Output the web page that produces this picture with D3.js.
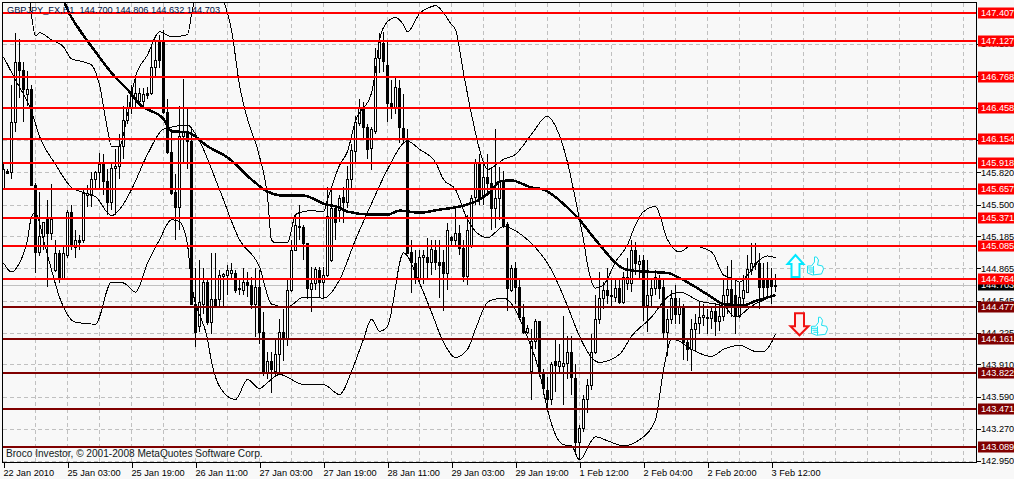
<!DOCTYPE html>
<html>
<head>
<meta charset="utf-8">
<script src="https://cdn.jsdelivr.net/npm/d3@7"></script>
<style>
  html, body { margin: 0; padding: 0; background: #f8f8f8; overflow: hidden; }
  svg { display: block; font-family: "Liberation Sans", sans-serif; }
  .axis text { font-size: 9.2px; fill: #000; font-family: "Liberation Sans", sans-serif; }
  .axis line { stroke: #000; shape-rendering: crispEdges; }
  .grid line { stroke: #c0c0c0; stroke-dasharray: 4 3; shape-rendering: crispEdges; }
</style>
</head>
<body>
<svg id="chart" width="1014" height="479"></svg>
<script>
var titleText = "GBPJPY_FX,H1  144.700 144.806 144.632 144.703";
var creditText = "Broco Investor, \u00a9 2001-2008 MetaQuotes Software Corp.";

var timeLabels = ["22 Jan 2010", "25 Jan 03:00", "25 Jan 19:00", "26 Jan 11:00", "27 Jan 03:00", "27 Jan 19:00",
  "28 Jan 11:00", "29 Jan 03:00", "29 Jan 19:00", "1 Feb 12:00", "2 Feb 04:00", "2 Feb 20:00", "3 Feb 12:00"];
var priceTicks = [142.95, 143.27, 143.59, 143.91, 144.225, 144.545, 144.865, 145.185, 145.5, 145.82, 146.14, 146.46, 146.78, 147.1];

var levelsUpper = [147.407, 147.127, 146.768, 146.458, 146.154, 145.918, 145.657, 145.371, 145.085, 144.764];
var levelsLower = [144.477, 144.161, 143.822, 143.471, 143.089];
var lastPrice = 144.703;

var open = [145.67,145.83,145.82,146.32,146.92,146.84,146.60,146.65,145.70,145.03,
  145.19,145.36,145.22,144.85,145.02,144.77,145.00,145.43,145.08,145.15,
  145.15,145.60,145.60,145.75,145.82,145.90,145.73,145.53,145.86,145.88,
  146.08,146.34,146.47,146.55,146.53,146.53,146.61,146.61,146.87,147.12,
  147.12,146.42,146.02,145.63,145.48,146.18,146.23,146.13,144.51,144.29,
  144.51,144.73,144.33,144.56,144.56,144.79,144.80,144.82,144.82,144.67,
  144.65,144.73,144.70,144.51,144.68,144.23,143.83,143.94,143.84,144.01,
  144.23,144.16,144.65,145.05,145.29,145.28,145.12,144.66,144.72,144.85,
  144.73,144.80,144.95,145.47,145.45,145.58,145.53,145.75,146.03,146.31,
  146.45,146.27,146.06,146.23,146.96,147.11,146.89,146.51,146.47,146.66,
  146.26,146.16,145.03,144.92,144.77,144.98,144.98,144.93,145.05,144.93,
  144.93,144.82,145.18,145.15,145.22,145.07,144.79,145.10,145.58,145.92,
  145.58,145.77,145.72,145.47,145.57,145.73,145.31,144.65,144.87,144.68,
  144.38,144.23,143.84,144.14,144.34,143.83,143.66,143.57,143.94,143.89,
  143.89,143.92,144.03,143.77,143.14,143.28,143.57,143.71,144.03,144.36,
  144.57,144.65,144.60,144.58,144.67,144.53,144.72,144.72,145.05,144.91,
  144.95,144.50,144.60,144.67,144.77,144.68,144.23,144.36,144.57,144.41,
  144.49,144.13,144.06,144.26,144.32,144.38,144.38,144.37,144.44,144.34,
  144.39,144.60,144.66,144.60,144.39,144.57,144.63,144.85,144.92,144.92,
  144.77,144.77,144.77,144.70];
var close = [145.85,145.81,146.32,146.92,146.84,146.65,146.65,145.70,145.03,145.19,
  145.33,145.22,145.36,145.02,144.77,145.02,145.43,145.10,145.15,145.13,
  145.62,145.62,145.75,145.82,145.90,145.73,145.53,145.86,145.88,146.08,
  146.34,146.47,146.63,146.61,146.61,146.60,146.59,146.87,146.94,146.94,
  146.42,146.02,145.62,145.48,146.18,146.22,146.13,144.51,144.23,144.53,
  144.73,144.33,144.56,144.49,144.80,144.81,144.85,144.85,144.65,144.66,
  144.73,144.70,144.51,144.68,144.23,143.84,143.94,143.86,144.01,144.23,
  144.16,144.65,145.05,145.30,145.28,145.12,144.67,144.72,144.86,144.73,
  144.80,145.39,145.47,145.33,145.57,145.53,145.75,146.04,146.32,146.46,
  146.27,146.05,146.25,146.96,147.12,146.93,146.51,146.47,146.67,146.27,
  146.17,145.02,144.93,144.77,144.98,145.00,144.93,145.06,144.93,144.90,
  144.82,145.25,145.15,145.22,145.07,144.79,145.25,145.57,145.92,145.57,
  145.77,145.72,145.47,145.57,145.73,145.30,144.67,144.87,144.68,144.38,
  144.23,144.27,144.14,144.34,143.83,143.68,143.57,143.91,143.90,143.94,
  143.92,144.03,143.78,143.14,143.28,143.57,143.71,144.03,144.36,144.57,
  144.65,144.60,144.59,144.67,144.53,144.78,144.78,145.05,144.92,144.94,
  144.50,144.60,144.67,144.78,144.67,144.23,144.36,144.57,144.41,144.49,
  144.13,144.06,144.26,144.32,144.38,144.40,144.37,144.44,144.34,144.39,
  144.60,144.66,144.51,144.39,144.58,144.65,144.86,144.92,144.91,144.68,
  144.68,144.68,144.69,144.703];
var high = [145.92,145.85,146.69,147.21,147.15,146.92,146.83,146.69,145.72,145.63,
  145.33,145.55,145.71,145.15,145.05,145.10,145.45,145.50,145.25,145.20,
  145.65,145.70,145.82,145.83,146.01,146.00,145.85,145.90,146.05,146.20,
  146.48,146.59,146.69,146.76,146.66,146.66,146.67,147.08,147.12,147.19,
  147.24,146.55,146.25,145.80,146.48,146.75,146.47,146.25,144.87,144.95,
  144.87,144.75,145.02,145.02,144.85,144.82,144.90,144.92,144.85,144.77,
  144.87,144.83,144.78,144.87,144.85,144.43,144.03,144.03,144.16,144.36,
  144.46,144.75,145.15,145.40,145.50,145.30,145.12,144.88,144.88,144.88,
  144.88,145.68,145.65,145.50,145.60,145.68,145.88,146.10,146.38,146.55,
  146.52,146.30,146.27,147.06,147.21,147.22,147.12,146.74,146.76,146.74,
  146.60,146.25,145.15,145.05,145.05,145.05,145.17,145.15,145.15,145.15,
  145.05,145.32,145.19,145.47,145.30,145.15,145.40,145.60,145.95,146.00,
  145.90,146.00,145.85,146.25,145.87,145.83,145.33,144.90,144.93,144.75,
  144.51,144.30,144.26,144.36,144.34,143.86,143.78,143.93,144.16,144.11,
  144.39,144.19,144.19,143.91,143.31,143.61,143.76,144.21,144.60,144.83,
  144.73,144.87,144.75,144.77,144.75,144.83,144.97,145.15,145.13,145.00,
  145.00,144.95,144.75,144.85,144.80,144.75,144.46,144.65,144.70,144.57,
  144.51,144.16,144.36,144.41,144.54,144.51,144.46,144.48,144.51,144.51,
  144.75,144.89,144.95,144.75,144.73,144.80,145.00,145.12,145.12,145.02,
  144.92,144.93,144.87,144.806];
var low = [145.65,145.80,145.75,146.22,146.56,146.32,146.48,145.70,144.82,144.99,
  145.05,144.68,145.15,144.83,144.72,144.75,144.97,145.05,144.97,145.05,
  145.12,145.48,145.48,145.67,145.65,145.60,145.40,145.45,145.40,145.75,
  145.95,146.30,146.40,146.45,146.48,146.47,146.55,146.59,146.76,146.86,
  146.40,146.00,145.60,145.15,145.25,145.90,145.85,144.51,144.08,144.23,
  144.41,144.30,144.21,144.48,144.48,144.48,144.60,144.75,144.62,144.60,
  144.60,144.58,144.46,144.18,144.11,143.79,143.76,143.63,143.79,143.83,
  143.94,144.09,144.63,145.05,145.15,144.95,144.56,144.43,144.65,144.57,
  144.57,144.78,144.93,145.15,145.33,145.32,145.47,145.65,145.90,146.28,
  146.15,145.95,145.84,146.20,146.81,146.82,146.32,146.35,146.40,146.11,
  146.11,145.02,144.62,144.71,144.71,144.71,144.77,144.80,144.85,144.57,
  144.44,144.65,145.10,145.10,145.00,144.73,144.70,145.07,145.50,145.50,
  145.50,145.59,145.25,145.27,145.35,145.27,144.44,144.63,144.51,144.36,
  144.21,144.21,143.56,144.06,143.78,143.61,143.46,143.51,143.64,143.83,
  143.51,143.76,143.61,143.01,142.96,143.24,143.43,143.66,144.01,144.31,
  144.46,144.51,144.48,144.53,144.51,144.51,144.65,144.63,144.80,144.75,
  144.34,144.23,144.48,144.60,144.56,144.16,143.99,144.31,144.31,144.31,
  143.95,143.94,143.84,144.04,144.21,144.29,144.21,144.26,144.19,144.24,
  144.34,144.41,144.38,144.21,144.37,144.51,144.63,144.80,144.85,144.46,
  144.56,144.57,144.51,144.632];

var upperBars = [6,7,8,9,12,15,17,20,22,24,26,27,29,31,33,36,39,42,46,47,48,50,53,55,57,59,61,64,66,67,68,71,73,74,77,80,81,84,86,88,92,93,94,96,98,100,101,104,107,108,110,112,113,115,117,119,121,125,128,132,136,138,141,143,144,145,146,148,150,153,156,158,160,163,166,169,172,177,180,182,184,186,189,191,193];
var upperBand = [147.79,147.39,147.18,147.21,147.14,147.07,146.95,146.92,146.89,146.69,146.25,146.08,146.08,146.40,146.77,146.99,147.22,147.17,147.19,147.39,147.59,147.94,147.84,147.54,147.24,146.69,146.35,145.98,145.58,145.15,145.12,145.12,145.40,145.42,145.44,145.43,145.55,145.89,146.03,146.33,146.61,146.84,147.14,147.32,147.36,147.29,147.22,147.40,147.47,147.48,147.41,147.29,147.24,146.81,146.40,146.05,145.85,145.95,146.00,146.20,146.38,146.28,145.92,145.55,145.35,145.15,144.90,144.67,144.70,144.93,145.10,145.30,145.43,145.48,145.15,145.03,145.09,145.03,144.80,144.77,144.73,144.80,144.95,144.99,144.97];

var middleBars = [0,3,7,9,13,17,20,23,27,29,32,36,40,46,49,54,59,64,67,71,75,80,84,88,92,96,101,104,108,110,113,116,121,125,131,137,141,144,147,149,154,157,162,166,169,174,180,183,187,193];
var middleBand = [146.97,146.74,146.43,146.18,145.90,145.67,145.62,145.58,145.39,145.45,145.65,146.00,146.25,146.29,146.13,145.65,145.15,144.88,144.51,144.48,144.58,144.57,144.75,145.15,145.51,145.85,146.13,146.05,145.92,145.75,145.65,145.35,145.17,145.28,145.15,144.85,144.49,144.19,143.98,143.93,144.01,144.19,144.38,144.58,144.63,144.54,144.49,144.38,144.49,144.60];

var lowerBars = [0,2,4,6,7,8,10,12,14,18,23,27,30,33,36,39,42,44,46,47,51,52,54,58,61,64,66,69,75,80,84,87,90,92,94,96,100,104,107,110,113,116,118,121,123,125,131,134,136,138,140,142,144,148,151,155,159,163,165,167,169,172,177,180,184,188,190,193];
var lowerBand = [144.92,144.83,144.92,145.15,145.38,145.42,145.15,144.85,144.58,144.33,144.31,144.73,144.72,144.63,144.92,145.15,145.35,145.33,145.10,144.72,144.16,143.94,143.69,143.56,143.76,143.67,143.73,143.81,143.71,143.71,143.61,143.84,144.16,144.36,144.24,144.29,145.02,144.72,144.43,144.13,143.98,144.06,144.26,144.53,144.56,144.57,144.18,143.83,143.46,143.21,143.11,143.10,142.96,143.19,143.15,143.10,143.16,143.36,143.86,144.16,144.14,144.06,143.99,144.06,144.10,144.04,144.04,144.21];

var maBars = [15,16,19,23,27,32,34,40,42,46,51,56,62,66,70,75,80,84,86,92,96,99,104,109,115,119,122,124,127,132,135,141,144,148,156,162,166,169,173,177,180,185,188,193];
var maLine = [147.54,147.44,147.24,147.02,146.81,146.60,146.50,146.35,146.23,146.22,146.08,145.97,145.75,145.63,145.59,145.59,145.51,145.47,145.43,145.40,145.40,145.44,145.42,145.45,145.49,145.55,145.64,145.73,145.74,145.67,145.65,145.47,145.35,145.15,144.85,144.83,144.82,144.77,144.68,144.58,144.51,144.50,144.54,144.60];

// arrow and thumb annotations, placed as [bar, price]
var buyArrow = [198, 144.78], buyThumb = [201, 144.79];
var sellArrow = [199, 144.20], sellThumb = [202, 144.19];

var width = 1014
  , height = 479
  , margin = { top: 2.5, left: 2.5, right: 976.5, bottom: 462.5 }
  , upColor = "#ff0000"
  , downColor = "#800000"
;

var svg = d3.select("#chart");

var x = d3.scaleLinear().domain([0, 100]).range([3.5, 403.5]);
var y = d3.scaleLinear().domain([142.939, 147.516]).range([462, 2]);

svg.append("defs").append("clipPath").attr("id", "plot")
  .append("rect")
    .attr("x", margin.left).attr("y", margin.top)
    .attr("width", margin.right - margin.left)
    .attr("height", margin.bottom - margin.top);

var plot = svg.append("g").attr("clip-path", "url(#plot)");

// Dashed grid
var gridBars = d3.range(8, 241, 8);
plot.append("g").attr("class", "grid").selectAll("line")
    .data(gridBars)
  .enter().append("line")
    .attr("x1", x).attr("x2", x)
    .attr("y1", margin.top).attr("y2", margin.bottom);
plot.append("g").attr("class", "grid").selectAll("line")
    .data(priceTicks)
  .enter().append("line")
    .attr("x1", margin.left).attr("x2", margin.right)
    .attr("y1", function(d) { return Math.round(y(d)) + 0.5; })
    .attr("y2", function(d) { return Math.round(y(d)) + 0.5; });

// Chart header sits under the level lines
svg.append("text")
    .attr("x", 7).attr("y", 13)
    .attr("font-size", 9.2).attr("fill", "#001040")
    .style("white-space", "pre")
    .text(titleText);

// Last price line
plot.append("line")
    .attr("x1", margin.left).attr("x2", margin.right)
    .attr("y1", Math.round(y(lastPrice)) + 0.5).attr("y2", Math.round(y(lastPrice)) + 0.5)
    .attr("stroke", "#c0c0c0").attr("shape-rendering", "crispEdges");

// Candles
var candles = plot.append("g").selectAll("g")
    .data(open.map(function(o, i) { return { i: i, o: o, c: close[i], h: high[i], l: low[i] }; }))
  .enter().append("g");

candles.append("line")
    .attr("x1", function(d) { return x(d.i); })
    .attr("x2", function(d) { return x(d.i); })
    .attr("y1", function(d) { return y(d.h); })
    .attr("y2", function(d) { return y(d.l); })
    .attr("stroke", "#000").attr("shape-rendering", "crispEdges");

candles.append("rect")
    .attr("x", function(d) { return x(d.i) - 1; })
    .attr("width", 2)
    .attr("y", function(d) { return Math.round(y(Math.max(d.o, d.c))) + 0.5; })
    .attr("height", function(d) {
        return Math.max(1, Math.round(y(Math.min(d.o, d.c))) - Math.round(y(Math.max(d.o, d.c))));
    })
    .attr("fill", function(d) { return d.c >= d.o ? "#fff" : "#000"; })
    .attr("stroke", "#000").attr("shape-rendering", "crispEdges");

// Bands and moving average
function pricePath(bars, values, widthPx) {
    var line = d3.line()
        .x(function(d) { return x(d); })
        .y(function(d, i) { return y(values[i]); })
        .curve(d3.curveMonotoneX);
    plot.append("path")
        .attr("d", line(bars))
        .attr("fill", "none").attr("stroke", "#000").attr("stroke-width", widthPx)
        .attr("shape-rendering", "crispEdges");
}
pricePath(upperBars, upperBand, 1);
pricePath(middleBars, middleBand, 1);
pricePath(lowerBars, lowerBand, 1);
pricePath(maBars, maLine, 2.5);

// Support and resistance levels
function drawLevels(levels, color) {
    plot.append("g").selectAll("line")
        .data(levels)
      .enter().append("line")
        .attr("x1", margin.left).attr("x2", margin.right)
        .attr("y1", function(d) { return Math.round(y(d)); })
        .attr("y2", function(d) { return Math.round(y(d)); })
        .attr("stroke", color).attr("stroke-width", 2)
        .attr("shape-rendering", "crispEdges");
}
drawLevels(levelsUpper, upColor);
drawLevels(levelsLower, downColor);

// Frame and axes
svg.append("rect")
    .attr("x", margin.left).attr("y", margin.top)
    .attr("width", margin.right - margin.left)
    .attr("height", margin.bottom - margin.top)
    .attr("fill", "none").attr("stroke", "#000")
    .attr("shape-rendering", "crispEdges");

var timeAxis = d3.axisBottom(x)
    .tickValues(timeLabels.map(function(d, i) { return i * 16; }))
    .tickSize(5)
    .tickFormat(function(d) { return timeLabels[d / 16]; });
svg.append("g").attr("class", "axis")
    .attr("transform", "translate(0," + margin.bottom + ")")
    .call(timeAxis)
    .call(function(g) { g.select(".domain").remove(); })
  .selectAll("text")
    .attr("text-anchor", "start").attr("x", -0.5).attr("y", 7).attr("dy", "0.71em");

var priceAxis = d3.axisRight(y)
    .tickValues(priceTicks)
    .tickSize(4)
    .tickFormat(d3.format(".3f"));
svg.append("g").attr("class", "axis")
    .attr("transform", "translate(" + margin.right + ",0)")
    .call(priceAxis)
    .call(function(g) { g.select(".domain").remove(); })
  .selectAll("text")
    .attr("x", 4.5);

// Price tags on the right edge
function drawTags(levels, color) {
    var tag = svg.append("g").selectAll("g")
        .data(levels)
      .enter().append("g")
        .attr("transform", function(d) { return "translate(978," + Math.round(y(d)) + ")"; });
    tag.append("rect")
        .attr("y", -5.5).attr("width", 36).attr("height", 11)
        .attr("fill", color);
    tag.append("text")
        .attr("x", 3).attr("dy", "0.35em")
        .attr("font-size", 9.2).attr("fill", "#fff")
        .text(function(d) { return d3.format(".3f")(d); });
}
drawTags([lastPrice], "#000");
drawTags(levelsUpper, upColor);
drawTags(levelsLower, downColor);

// Broker credit
svg.append("text")
    .attr("x", 6).attr("y", 457)
    .attr("font-size", 10.1).attr("fill", "#101820")
    .text(creditText);

// Annotations
function place(pos) { return "translate(" + x(pos[0]) + "," + y(pos[1]) + ")"; }

svg.append("path")
    .attr("transform", place(buyArrow))
    .attr("d", "M-4 0V-13H-8L0-22L8-13H4V0Z")
    .attr("fill", "#f4ffff").attr("stroke", "#00e8ff").attr("stroke-width", 2);

svg.append("path")
    .attr("transform", place(sellArrow))
    .attr("d", "M-4.5-22H4.5V-9H9L0 0L-9-9H-4.5Z")
    .attr("fill", "#ffeeee").attr("stroke", "#f01010").attr("stroke-width", 2);

function thumb(pos) {
    svg.append("path")
        .attr("transform", place(pos))
        .attr("d", "M0-10L4-10L7-14L7-19L9-19L11-16L10-11L15-10L16-7L14-2L5-1L0-3ZM0-8H6M1-6H6M2-4H7M6-10V-1")
        .attr("fill", "#f8ffff").attr("stroke", "#20e0f0").attr("stroke-width", 1);
}
thumb(buyThumb);
thumb(sellThumb);
</script>
</body>
</html>
